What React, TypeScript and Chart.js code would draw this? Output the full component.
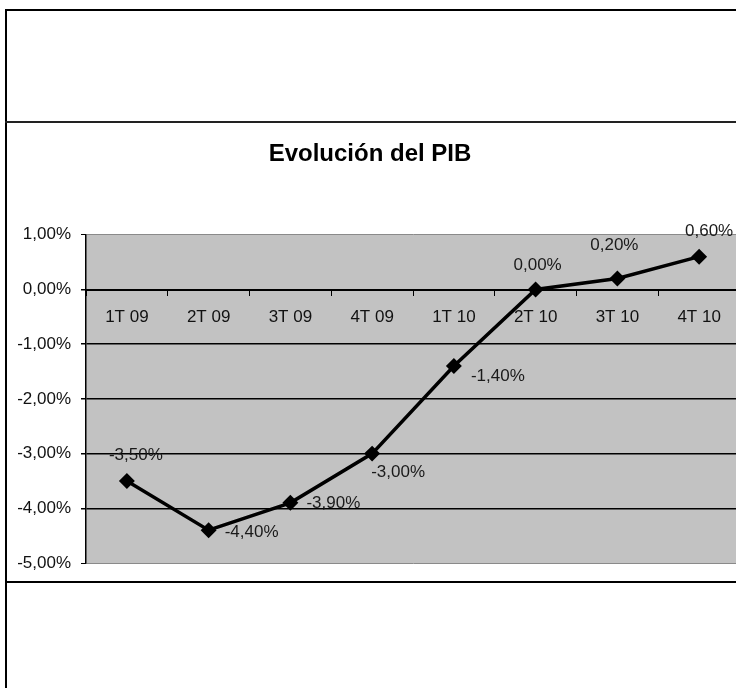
import React, { useEffect, useRef } from "react";
import { Chart, registerables } from "chart.js";

Chart.register(...registerables);

const chartTitle = "Evolución del PIB";
const quarters = ["1T 09", "2T 09", "3T 09", "4T 09", "1T 10", "2T 10", "3T 10", "4T 10"];
const pibValues = [-3.5, -4.4, -3.9, -3.0, -1.4, 0.0, 0.2, 0.6];
const yMin = -5;
const yMax = 1;
const yStep = 1;

const FONT = "'Liberation Sans', Arial, Helvetica, sans-serif";

const fmtPct = (v: number) => v.toFixed(2).replace(".", ",") + "%";

const pointLabelsPlugin = {
  id: "pointLabels",
  afterDatasetsDraw(chart: any, _args: any, opts: any) {
    const ctx = chart.ctx;
    const meta = chart.getDatasetMeta(0);
    const values = chart.data.datasets[0].data as number[];
    const offsets: number[][] = opts.offsets || [];
    ctx.save();
    ctx.font = `${opts.size}px ${FONT}`;
    ctx.fillStyle = opts.color;
    ctx.textAlign = "center";
    ctx.textBaseline = "middle";
    meta.data.forEach((el: any, i: number) => {
      const off = offsets[i] || [0, -20];
      ctx.fillText(fmtPct(values[i]), el.x + off[0], el.y + off[1]);
    });
    ctx.restore();
  },
};

function PibChart() {
  const ref = useRef<HTMLCanvasElement | null>(null);
  useEffect(() => {
    if (!ref.current) return;
    const chart = new Chart(ref.current, {
      type: "line",
      data: {
        labels: quarters,
        datasets: [
          {
            data: pibValues,
            borderColor: "#000",
            backgroundColor: "#000",
            borderWidth: 3.5,
            pointStyle: "rectRot",
            pointRadius: 5.5,
            pointBackgroundColor: "#000",
            pointBorderColor: "#000",
            tension: 0,
            fill: false,
          },
        ],
      },
      options: {
        animation: false,
        responsive: false,
        maintainAspectRatio: false,
        layout: { autoPadding: false, padding: { left: 0, right: 0, top: 0, bottom: 125 } },
        plugins: {
          legend: { display: false },
          tooltip: { enabled: false },
          title: {
            display: true,
            text: chartTitle,
            color: "#000",
            font: { family: FONT, size: 24, weight: "bold" },
            padding: { top: 140, bottom: 66 },
          },
          pointLabels: {
            size: 17,
            color: "#1a1a1a",
            offsets: [
              [9, -26],
              [43, 2],
              [43, 0],
              [26, 19],
              [44, 10],
              [2, -24],
              [-3, -33],
              [10, -25],
            ],
          },
        } as any,
        scales: {
          x: {
            type: "category",
            offset: true,
            position: { y: 0 } as any,
            grid: {
              display: true,
              drawOnChartArea: false,
              drawTicks: true,
              tickLength: 5,
              tickColor: "#000",
              offset: true,
            },
            border: { display: true, color: "#000", width: 2 },
            ticks: {
              color: "#111",
              font: { family: FONT, size: 17 },
              padding: 13,
              maxRotation: 0,
              autoSkip: false,
            },
          },
          y: {
            type: "linear",
            min: yMin,
            max: yMax,
            afterFit(scale: any) {
              scale.width = 86;
            },
            grid: {
              color: (c: any) =>
                c.tick && (c.tick.value === yMax || c.tick.value === yMin) ? "#8a8a8a" : "#000",
              lineWidth: (c: any) =>
                c.tick && (c.tick.value === yMax || c.tick.value === yMin) ? 1 : 1.5,
              tickColor: "#000",
              tickLength: 5,
              drawTicks: true,
            },
            border: { display: true, color: "#000", width: 1.5 },
            ticks: {
              stepSize: yStep,
              color: "#111",
              font: { family: FONT, size: 17 },
              padding: 10,
              callback: (v: any) => fmtPct(Number(v)),
            },
          },
        },
      },
      plugins: [
        pointLabelsPlugin,
        {
          id: "plotBg",
          beforeDraw(chart: any) {
            const { ctx, chartArea } = chart;
            ctx.save();
            ctx.fillStyle = "#c2c2c2";
            ctx.fillRect(chartArea.left, chartArea.top, chartArea.right - chartArea.left, chartArea.bottom - chartArea.top);
            ctx.restore();
          },
        },
      ],
    });
    return () => chart.destroy();
  }, []);
  return <canvas ref={ref} width={740} height={688} style={{ position: "absolute", left: 0, top: 0, width: 740, height: 688 }} />;
}

export default function App() {
  const line = (style: React.CSSProperties) => (
    <div style={{ position: "absolute", background: "#000", ...style }} />
  );
  return (
    <div
      style={{
        position: "fixed",
        left: 0,
        top: 0,
        width: 736,
        height: 688,
        overflow: "hidden",
        background: "#fff",
      }}
    >
      <PibChart />
      {line({ left: 5, top: 9, width: 731, height: 2 })}
      {line({ left: 5, top: 9, width: 2, height: 679 })}
      {line({ left: 5, top: 121, width: 731, height: 2, background: "#222" })}
      {line({ left: 5, top: 581, width: 731, height: 2 })}
    </div>
  );
}
